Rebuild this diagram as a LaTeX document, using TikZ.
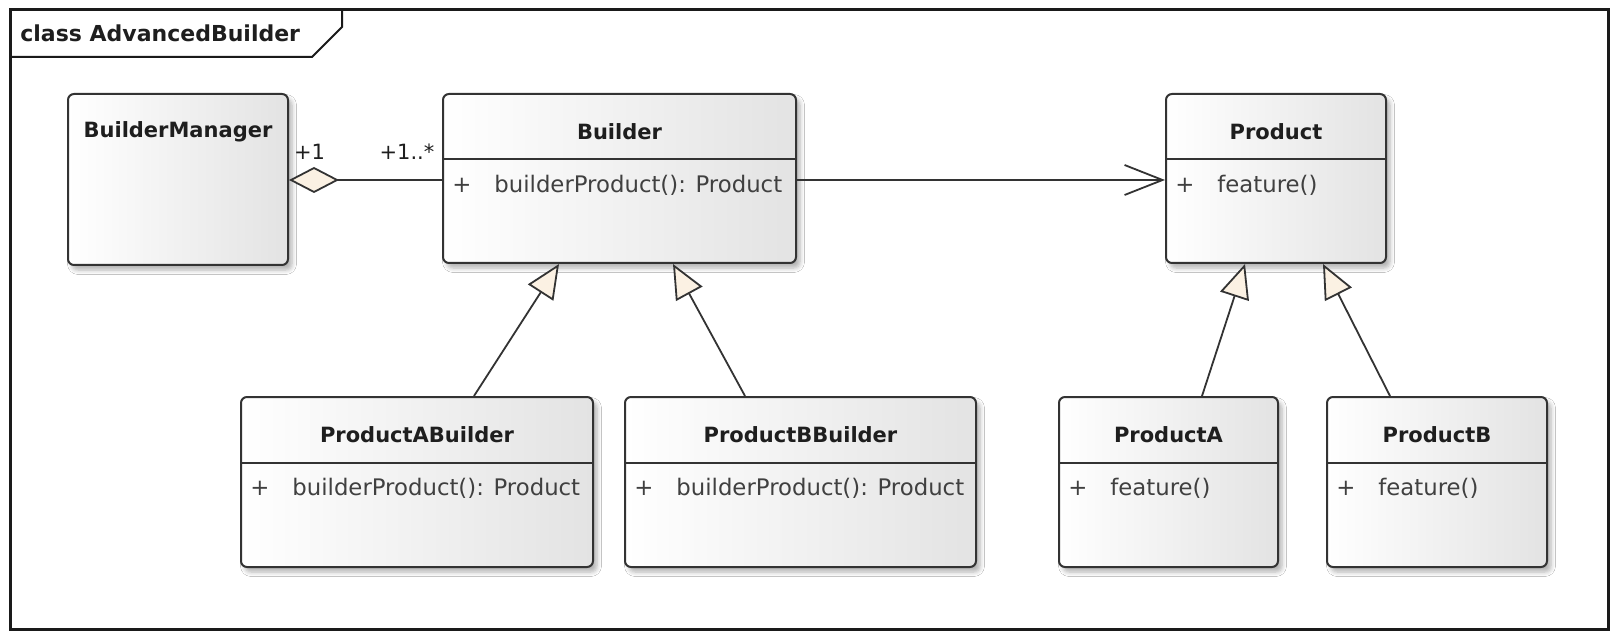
\documentclass[tikz,border=0pt]{standalone}
\usepackage{fontspec}
\setmainfont{DejaVu Sans}
\usetikzlibrary{arrows.meta,calc,shadows.blur}
\definecolor{linec}{HTML}{333333}
\definecolor{framec}{HTML}{1A1A1A}
\definecolor{cream}{HTML}{FBF1E3}
\definecolor{txt}{HTML}{1E1E1E}
\definecolor{mtxt}{HTML}{404040}
\begin{document}
\begin{tikzpicture}[x=0.5pt,y=-0.5pt,
  cls/.style={draw=linec, line width=1pt, rounded corners=3pt,
    left color=white, right color=black!11, inner sep=0pt,
    blur shadow={shadow xshift=2pt, shadow yshift=-2.5pt, shadow blur steps=6, shadow opacity=30}},
  ttl/.style={font=\bfseries\fontsize{10.5pt}{12pt}\selectfont, text=txt, inner sep=0pt},
  meth/.style={font=\fontsize{11.4pt}{13pt}\selectfont, text=mtxt, inner sep=0pt, anchor=west},
  mult/.style={font=\fontsize{10.5pt}{12pt}\selectfont, text=txt, inner sep=0pt},
  divider/.style={draw=linec, line width=1pt},
  gen/.style={draw=linec, line width=0.9pt, -{Triangle[length=17pt,width=15pt,fill=cream]}},
  assoc/.style={draw=linec, line width=0.9pt, -{Straight Barb[length=19pt,width=15pt]}},
  aggr/.style={draw=linec, line width=0.9pt, {Diamond[length=25pt,width=13pt,fill=cream]}-},
]
\useasboundingbox (0,0) rectangle (1617,636);
\fill[white] (0,0) rectangle (1617,636);

% frame
\draw[framec, line width=1.5pt] (10,10) rectangle (1608,629);
\draw[framec, line width=1pt] (10,57) -- (312,57) -- (342,27) -- (342,10);
\node[font=\bfseries\fontsize{11pt}{13pt}\selectfont, text=txt, inner sep=0pt, anchor=west] (frametitle) at (20,33) {class AdvancedBuilder};

% classes
\node[cls, minimum width=110pt, minimum height=85.5pt] (bm) at (178,179.5) {};
\node[cls, minimum width=176.5pt, minimum height=84.5pt] (b) at (619.5,178.5) {};
\node[cls, minimum width=110pt, minimum height=84.5pt] (p) at (1276,178.5) {};
\node[cls, minimum width=176pt, minimum height=85pt] (pab) at (417,482) {};
\node[cls, minimum width=175.5pt, minimum height=85pt] (pbb) at (800.5,482) {};
\node[cls, minimum width=109.5pt, minimum height=85pt] (pa) at (1168.5,482) {};
\node[cls, minimum width=110pt, minimum height=85pt] (pb) at (1437,482) {};

% titles
\node[ttl] (bmt) at ($(bm.north)+(0,39)$) {BuilderManager};
\foreach \n/\t in {b/Builder, p/Product, pab/ProductABuilder, pbb/ProductBBuilder, pa/ProductA, pb/ProductB}{
  \node[ttl] (\n t) at ($(\n.north)+(0,39)$) {\t};
  \draw[divider] ($(\n.north west)+(0,66.5)$) -- ($(\n.north east)+(0,66.5)$);
  \node[meth] (\n plus) at ($(\n.north west)+(10,92)$) {+};
}
\node[meth] (bm1) at ($(b.north west)+(52,92)$) {builderProduct(): Product};
\node[meth] (pm1) at ($(p.north west)+(52,92)$) {feature()};
\node[meth] (pabm1) at ($(pab.north west)+(52,92)$) {builderProduct(): Product};
\node[meth] (pbbm1) at ($(pbb.north west)+(52,92)$) {builderProduct(): Product};
\node[meth] (pam1) at ($(pa.north west)+(52,92)$) {feature()};
\node[meth] (pbm1) at ($(pb.north west)+(52,92)$) {feature()};

% connectors
\coordinate (bmE) at ($(bm.east)+(0,0.5)$);
\draw[aggr] (bmE) -- (bmE -| b.west);
\node[mult] (m1) at (309.5,152) {+1};
\node[mult] (m2) at (407,152) {+1..*};

\coordinate (bE) at ($(b.east)+(0,1.5)$);
\draw[assoc] (bE) -- (bE -| p.west);

\draw[gen] (pab.north -| 474,0) -- (b.south -| 559,0);
\draw[gen] (pbb.north -| 745,0) -- (b.south -| 673,0);
\draw[gen] (pa.north -| 1202,0) -- (p.south -| 1245,0);
\draw[gen] (pb.north -| 1390,0) -- (p.south -| 1323,0);
\end{tikzpicture}
\end{document}
